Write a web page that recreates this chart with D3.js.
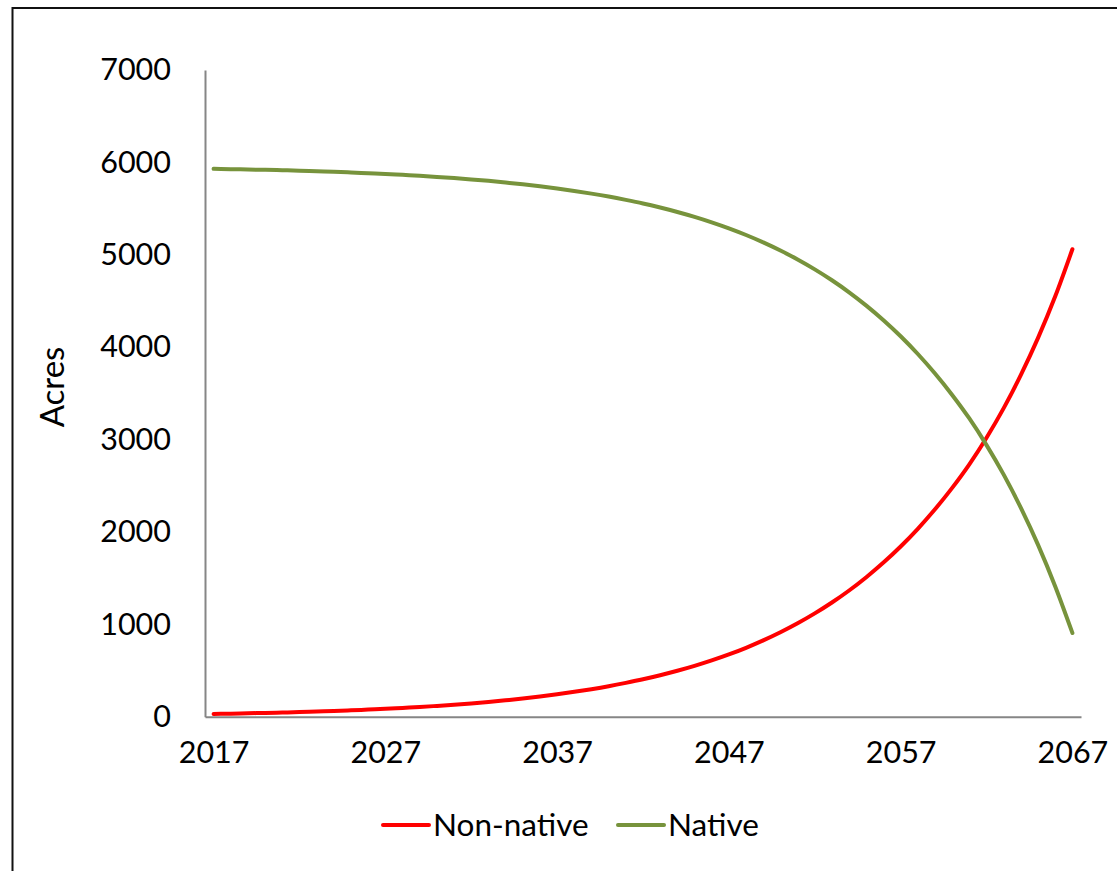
<!DOCTYPE html>
<html>
<head>
<meta charset="utf-8">
<script src="https://cdn.jsdelivr.net/npm/d3@7"></script>
<style>
  html, body { margin: 0; padding: 0; background: #fff; }
  svg { display: block; }
  text { font-family: Lato, "Open Sans", sans-serif; fill: #000; }
</style>
</head>
<body>
<svg id="chart" width="1117" height="871"></svg>
<script>
// ---- data ----
const years = d3.range(2017, 2068);
const tickYears = [2017, 2027, 2037, 2047, 2057, 2067];
const yTicks = [0, 1000, 2000, 3000, 4000, 5000, 6000, 7000];
const nonNative = [30, 33, 37, 41, 45, 50, 56, 62, 69, 77,
  85, 95, 105, 117, 130, 144, 160, 178, 197, 219,
  243, 269, 298, 330, 366, 405, 449, 497, 550, 609,
  674, 746, 826, 914, 1011, 1118, 1236, 1366, 1510, 1668,
  1842, 2034, 2245, 2477, 2732, 3020, 3340, 3700, 4100, 4550,
  5060];
const native = [5930, 5927, 5923, 5919, 5915, 5910, 5904, 5898, 5891, 5883,
  5875, 5865, 5855, 5843, 5830, 5816, 5800, 5782, 5763, 5741,
  5717, 5691, 5662, 5630, 5594, 5555, 5511, 5463, 5410, 5351,
  5286, 5214, 5134, 5046, 4949, 4842, 4724, 4594, 4450, 4292,
  4118, 3926, 3715, 3483, 3228, 2940, 2620, 2260, 1860, 1410,
  906];
const seriesNames = ["Non-native", "Native"];
const seriesColors = ["#FF0000", "#77933C"];

const svg = d3.select("#chart");

// outer border
svg.append("rect")
  .attr("x", 12.5).attr("y", 8)
  .attr("width", 1130).attr("height", 900)
  .attr("fill", "none").attr("stroke", "#111").attr("stroke-width", 2);

const plot = { left: 205, right: 1081, top: 70, bottom: 716.7 };

const x = d3.scalePoint().domain(years).range([plot.left, plot.right]).padding(0.5);
const y = d3.scaleLinear().domain([0, 7000]).range([plot.bottom, plot.top]);

// y axis
const yAxis = svg.append("g")
  .attr("transform", `translate(${plot.left},0)`)
  .call(d3.axisLeft(y).tickValues(yTicks).tickSize(0).tickPadding(34).tickFormat(d3.format("d")));
yAxis.select(".domain").attr("stroke", "#868686").attr("stroke-width", 2);
yAxis.selectAll("text").attr("font-size", 30.5).attr("font-family", "Lato, sans-serif").attr("fill", "#000");

// x axis
const xAxis = svg.append("g")
  .attr("transform", `translate(0,${plot.bottom})`)
  .call(d3.axisBottom(x).tickValues(tickYears).tickSize(0).tickPadding(25).tickFormat(d3.format("d")));
xAxis.select(".domain").attr("stroke", "#868686").attr("stroke-width", 2);
xAxis.selectAll("text").attr("font-size", 30.5).attr("font-family", "Lato, sans-serif").attr("fill", "#000");

// y-axis title
svg.append("text")
  .attr("transform", "translate(64,387) rotate(-90)")
  .attr("text-anchor", "middle")
  .attr("font-size", 33)
  .text("Acres");

// lines
const line = d3.line()
  .x((d, i) => x(years[i]))
  .y(d => y(d))
  .curve(d3.curveMonotoneX);

[nonNative, native].forEach((s, k) => {
  svg.append("path")
    .datum(s)
    .attr("fill", "none")
    .attr("stroke", seriesColors[k])
    .attr("stroke-width", 4)
    .attr("stroke-linecap", "round")
    .attr("stroke-linejoin", "round")
    .attr("d", line);
});

// legend
const legendItems = [{ x: 383 }, { x: 618 }];
legendItems.forEach((it, k) => {
  const g = svg.append("g").attr("transform", `translate(${it.x},825)`);
  g.append("line").attr("x1", 0).attr("x2", 46).attr("y1", 0).attr("y2", 0)
    .attr("stroke", seriesColors[k]).attr("stroke-width", 4).attr("stroke-linecap", "round");
  g.append("text").attr("x", 50).attr("y", 11).attr("font-size", 31.5).text(seriesNames[k]);
});
</script>
</body>
</html>
